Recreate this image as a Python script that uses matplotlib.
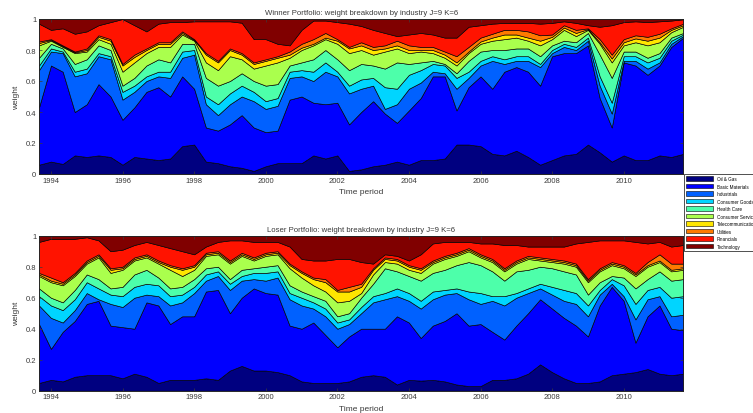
import numpy as np
import pandas as pd
import matplotlib
matplotlib.use("Agg")
import matplotlib.pyplot as plt
from matplotlib.patches import Patch

plt.rcParams['font.family'] = ['Liberation Sans', 'DejaVu Sans']

# Time axis: one observation every four months, Sep 1993 .. Sep 2011
periods = pd.date_range("1993-09-01", "2011-09-01", freq="4MS")

industries = ["Oil & Gas", "Basic Materials", "Industrials", "Consumer Goods",
              "Health Care", "Consumer Services", "Telecommunications",
              "Utilities", "Financials", "Technology"]

# ---- Winner portfolio: upper edge of each stacked band (Technology fills to 1)
winner_oil_gas_top = [0.06, 0.08, 0.065, 0.12, 0.11, 0.12, 0.11, 0.06, 0.11, 0.10, 0.09, 0.10, 0.18, 0.19, 0.08, 0.07, 0.05, 0.04, 0.02, 0.05, 0.07, 0.07, 0.07, 0.12, 0.10, 0.12, 0.02, 0.03, 0.05, 0.06, 0.08, 0.06, 0.09, 0.09, 0.10, 0.19, 0.19, 0.18, 0.13, 0.12, 0.15, 0.11, 0.06, 0.09, 0.12, 0.13, 0.19, 0.14, 0.08, 0.12, 0.09, 0.09, 0.12, 0.11, 0.13]
winner_basic_top = [0.43, 0.70, 0.66, 0.40, 0.45, 0.58, 0.50, 0.35, 0.43, 0.53, 0.56, 0.50, 0.63, 0.55, 0.30, 0.28, 0.32, 0.38, 0.30, 0.27, 0.28, 0.48, 0.50, 0.46, 0.45, 0.46, 0.32, 0.40, 0.47, 0.39, 0.33, 0.41, 0.49, 0.63, 0.63, 0.41, 0.56, 0.63, 0.55, 0.66, 0.69, 0.66, 0.57, 0.76, 0.78, 0.78, 0.83, 0.49, 0.30, 0.72, 0.70, 0.64, 0.70, 0.82, 0.88]
winner_industrials_top = [0.67, 0.79, 0.78, 0.63, 0.65, 0.76, 0.74, 0.48, 0.53, 0.60, 0.63, 0.62, 0.75, 0.77, 0.45, 0.38, 0.45, 0.50, 0.47, 0.42, 0.44, 0.62, 0.63, 0.60, 0.66, 0.63, 0.52, 0.55, 0.57, 0.42, 0.45, 0.55, 0.59, 0.66, 0.65, 0.55, 0.62, 0.70, 0.73, 0.71, 0.73, 0.73, 0.69, 0.78, 0.82, 0.80, 0.86, 0.57, 0.39, 0.73, 0.73, 0.68, 0.72, 0.84, 0.89]
winner_cons_goods_top = [0.70, 0.81, 0.79, 0.66, 0.68, 0.78, 0.76, 0.53, 0.57, 0.63, 0.66, 0.66, 0.79, 0.80, 0.50, 0.45, 0.52, 0.57, 0.53, 0.47, 0.49, 0.66, 0.67, 0.66, 0.72, 0.66, 0.57, 0.61, 0.62, 0.56, 0.55, 0.64, 0.67, 0.71, 0.70, 0.62, 0.66, 0.73, 0.76, 0.74, 0.76, 0.76, 0.71, 0.80, 0.84, 0.82, 0.88, 0.63, 0.46, 0.76, 0.76, 0.72, 0.75, 0.86, 0.90]
winner_health_top = [0.75, 0.84, 0.81, 0.71, 0.74, 0.83, 0.80, 0.57, 0.62, 0.70, 0.74, 0.72, 0.84, 0.84, 0.62, 0.57, 0.60, 0.65, 0.60, 0.57, 0.58, 0.70, 0.72, 0.74, 0.80, 0.74, 0.67, 0.71, 0.70, 0.68, 0.72, 0.71, 0.72, 0.73, 0.71, 0.65, 0.73, 0.79, 0.80, 0.80, 0.81, 0.81, 0.76, 0.83, 0.86, 0.85, 0.91, 0.77, 0.62, 0.79, 0.79, 0.75, 0.78, 0.88, 0.91]
winner_cons_services_top = [0.83, 0.86, 0.82, 0.78, 0.79, 0.87, 0.84, 0.66, 0.72, 0.78, 0.82, 0.82, 0.90, 0.86, 0.72, 0.67, 0.76, 0.74, 0.68, 0.70, 0.72, 0.75, 0.80, 0.83, 0.87, 0.84, 0.78, 0.80, 0.77, 0.79, 0.81, 0.78, 0.79, 0.78, 0.75, 0.70, 0.78, 0.84, 0.86, 0.87, 0.88, 0.86, 0.83, 0.87, 0.93, 0.89, 0.93, 0.84, 0.72, 0.83, 0.85, 0.83, 0.85, 0.915, 0.95]
winner_telecom_top = [0.845, 0.865, 0.825, 0.785, 0.80, 0.885, 0.86, 0.70, 0.755, 0.80, 0.84, 0.84, 0.91, 0.865, 0.77, 0.72, 0.80, 0.77, 0.71, 0.73, 0.75, 0.77, 0.815, 0.84, 0.88, 0.86, 0.81, 0.83, 0.80, 0.81, 0.83, 0.80, 0.80, 0.80, 0.77, 0.72, 0.79, 0.855, 0.88, 0.90, 0.90, 0.88, 0.86, 0.885, 0.945, 0.91, 0.935, 0.85, 0.745, 0.85, 0.875, 0.86, 0.88, 0.93, 0.96]
winner_utilities_top = [0.855, 0.87, 0.83, 0.79, 0.81, 0.895, 0.87, 0.71, 0.77, 0.81, 0.85, 0.85, 0.92, 0.87, 0.78, 0.73, 0.81, 0.78, 0.72, 0.74, 0.76, 0.79, 0.84, 0.87, 0.91, 0.87, 0.82, 0.85, 0.82, 0.83, 0.86, 0.83, 0.82, 0.82, 0.79, 0.76, 0.82, 0.88, 0.905, 0.93, 0.93, 0.92, 0.895, 0.90, 0.96, 0.93, 0.94, 0.87, 0.77, 0.87, 0.895, 0.885, 0.905, 0.94, 0.97]
winner_financials_top = [0.97, 0.93, 0.94, 0.905, 0.92, 0.96, 0.98, 1.0, 0.96, 0.92, 0.97, 0.98, 0.98, 0.985, 0.985, 0.985, 0.985, 0.976, 0.87, 0.87, 0.84, 0.83, 0.93, 0.99, 0.99, 0.98, 0.97, 0.955, 0.93, 0.91, 0.89, 0.90, 0.91, 0.90, 0.88, 0.88, 0.95, 0.96, 0.97, 0.975, 0.975, 0.975, 0.97, 0.975, 0.985, 0.975, 0.96, 0.95, 0.96, 0.98, 0.985, 0.98, 0.985, 0.99, 0.998]

# ---- Loser portfolio
loser_oil_gas_top = [0.05, 0.07, 0.06, 0.09, 0.10, 0.10, 0.10, 0.08, 0.11, 0.09, 0.05, 0.07, 0.07, 0.07, 0.08, 0.07, 0.13, 0.16, 0.13, 0.13, 0.12, 0.10, 0.06, 0.05, 0.05, 0.05, 0.06, 0.09, 0.10, 0.09, 0.04, 0.07, 0.065, 0.07, 0.06, 0.04, 0.03, 0.03, 0.07, 0.07, 0.08, 0.11, 0.17, 0.12, 0.08, 0.05, 0.05, 0.06, 0.10, 0.11, 0.12, 0.14, 0.11, 0.10, 0.11]
loser_basic_top = [0.43, 0.27, 0.38, 0.45, 0.56, 0.58, 0.42, 0.41, 0.40, 0.57, 0.55, 0.43, 0.48, 0.48, 0.64, 0.65, 0.50, 0.60, 0.66, 0.63, 0.62, 0.42, 0.40, 0.44, 0.36, 0.28, 0.35, 0.40, 0.40, 0.40, 0.48, 0.44, 0.34, 0.42, 0.45, 0.50, 0.42, 0.43, 0.38, 0.33, 0.42, 0.50, 0.59, 0.53, 0.47, 0.42, 0.35, 0.55, 0.67, 0.58, 0.31, 0.48, 0.55, 0.40, 0.39]
loser_industrials_top = [0.55, 0.47, 0.44, 0.52, 0.63, 0.59, 0.56, 0.54, 0.60, 0.62, 0.61, 0.55, 0.57, 0.63, 0.71, 0.74, 0.65, 0.71, 0.72, 0.71, 0.73, 0.59, 0.55, 0.53, 0.48, 0.40, 0.43, 0.50, 0.57, 0.59, 0.61, 0.58, 0.53, 0.59, 0.62, 0.63, 0.59, 0.56, 0.58, 0.55, 0.60, 0.63, 0.66, 0.62, 0.58, 0.56, 0.48, 0.62, 0.69, 0.61, 0.46, 0.59, 0.61, 0.48, 0.49]
loser_cons_goods_top = [0.61, 0.55, 0.52, 0.59, 0.70, 0.66, 0.62, 0.61, 0.67, 0.69, 0.68, 0.61, 0.62, 0.67, 0.75, 0.77, 0.69, 0.74, 0.76, 0.76, 0.77, 0.63, 0.60, 0.57, 0.53, 0.44, 0.46, 0.54, 0.61, 0.63, 0.66, 0.63, 0.58, 0.64, 0.65, 0.66, 0.64, 0.63, 0.61, 0.61, 0.63, 0.66, 0.69, 0.67, 0.65, 0.63, 0.55, 0.65, 0.72, 0.68, 0.56, 0.65, 0.67, 0.60, 0.61]
loser_health_top = [0.66, 0.60, 0.57, 0.65, 0.75, 0.72, 0.66, 0.67, 0.75, 0.78, 0.73, 0.66, 0.67, 0.72, 0.79, 0.80, 0.72, 0.78, 0.79, 0.80, 0.81, 0.68, 0.64, 0.61, 0.58, 0.48, 0.50, 0.60, 0.69, 0.79, 0.77, 0.74, 0.71, 0.76, 0.78, 0.81, 0.83, 0.81, 0.77, 0.71, 0.77, 0.78, 0.80, 0.79, 0.77, 0.75, 0.62, 0.70, 0.74, 0.73, 0.66, 0.72, 0.77, 0.71, 0.72]
loser_cons_services_top = [0.74, 0.70, 0.68, 0.74, 0.82, 0.86, 0.76, 0.78, 0.84, 0.86, 0.82, 0.78, 0.74, 0.78, 0.87, 0.88, 0.82, 0.87, 0.84, 0.87, 0.88, 0.79, 0.73, 0.68, 0.64, 0.57, 0.58, 0.63, 0.75, 0.83, 0.82, 0.78, 0.76, 0.82, 0.85, 0.87, 0.90, 0.86, 0.83, 0.77, 0.82, 0.85, 0.84, 0.83, 0.82, 0.80, 0.70, 0.77, 0.81, 0.79, 0.74, 0.80, 0.83, 0.77, 0.78]
loser_telecom_top = [0.75, 0.71, 0.69, 0.75, 0.83, 0.87, 0.78, 0.79, 0.85, 0.87, 0.83, 0.80, 0.78, 0.80, 0.88, 0.89, 0.83, 0.88, 0.85, 0.88, 0.89, 0.81, 0.76, 0.72, 0.70, 0.64, 0.64, 0.67, 0.78, 0.85, 0.84, 0.80, 0.78, 0.83, 0.86, 0.88, 0.91, 0.87, 0.84, 0.78, 0.83, 0.86, 0.85, 0.84, 0.83, 0.81, 0.71, 0.78, 0.82, 0.80, 0.75, 0.81, 0.84, 0.78, 0.79]
loser_utilities_top = [0.76, 0.73, 0.70, 0.76, 0.84, 0.88, 0.79, 0.80, 0.86, 0.88, 0.84, 0.81, 0.79, 0.81, 0.89, 0.90, 0.84, 0.89, 0.86, 0.89, 0.90, 0.82, 0.77, 0.73, 0.72, 0.65, 0.67, 0.69, 0.79, 0.86, 0.85, 0.81, 0.79, 0.84, 0.87, 0.89, 0.92, 0.88, 0.85, 0.79, 0.84, 0.87, 0.86, 0.85, 0.84, 0.82, 0.72, 0.79, 0.83, 0.81, 0.76, 0.83, 0.88, 0.82, 0.82]
loser_financials_top = [0.96, 0.98, 0.98, 0.98, 0.99, 0.97, 0.90, 0.91, 0.94, 0.96, 0.94, 0.92, 0.90, 0.88, 0.93, 0.96, 0.97, 0.97, 0.96, 0.96, 0.96, 0.93, 0.85, 0.84, 0.84, 0.85, 0.85, 0.83, 0.82, 0.88, 0.87, 0.84, 0.88, 0.95, 0.96, 0.96, 0.96, 0.95, 0.95, 0.94, 0.94, 0.93, 0.93, 0.93, 0.93, 0.95, 0.96, 0.97, 0.97, 0.97, 0.96, 0.95, 0.96, 0.93, 0.94]

year_ticks = ["1994", "1996", "1998", "2000", "2002", "2004", "2006", "2008", "2010"]
y_ticks = [0, 0.2, 0.4, 0.6, 0.8, 1]
y_tick_labels = ["0", "0.2", "0.4", "0.6", "0.8", "1"]

colors = plt.cm.jet(np.linspace(0, 1, len(industries)))


def weights_from_tops(tops):
    n = len(tops[0])
    bounds = np.vstack([np.zeros(n)] + [np.asarray(t, float) for t in tops] + [np.ones(n)])
    return np.clip(np.diff(bounds, axis=0), 0, None)


winner_weights = weights_from_tops([winner_oil_gas_top, winner_basic_top, winner_industrials_top,
                                    winner_cons_goods_top, winner_health_top, winner_cons_services_top,
                                    winner_telecom_top, winner_utilities_top, winner_financials_top])
loser_weights = weights_from_tops([loser_oil_gas_top, loser_basic_top, loser_industrials_top,
                                   loser_cons_goods_top, loser_health_top, loser_cons_services_top,
                                   loser_telecom_top, loser_utilities_top, loser_financials_top])

W, H = 753, 414
fig = plt.figure(figsize=(W / 100, H / 100), dpi=100)

def px_axes(left, top, right, bottom):
    return fig.add_axes([left / W, 1 - bottom / H, (right - left) / W, (bottom - top) / H])

ax1 = px_axes(39, 20, 683.3, 175)
ax2 = px_axes(39, 236.7, 683.3, 391.7)

text_color = "#3a3a3a"
for ax, weights, title in [(ax1, winner_weights, "Winner Portfolio: weight breakdown by industry J=9 K=6"),
                           (ax2, loser_weights, "Loser Portfolio: weight breakdown by industry J=9 K=6")]:
    ax.stackplot(periods, weights, colors=colors, edgecolor="black", linewidth=0.45)
    ax.set_xlim(periods[0], periods[-1])
    ax.set_ylim(0, 1)
    ax.set_yticks(y_ticks)
    ax.set_yticklabels(y_tick_labels)
    ax.set_xticks([pd.Timestamp(f"{y}-01-01") for y in year_ticks])
    ax.set_xticklabels(year_ticks)
    ax.tick_params(direction="in", length=2, width=0.5, labelsize=5.5, colors=text_color,
                   pad=2, top=True, right=True)
    for s in ax.spines.values():
        s.set_linewidth(0.6)
        s.set_color("#222222")
    ax.set_title(title, fontsize=5.6, color=text_color, pad=3.5)
    ax.set_xlabel("Time period", fontsize=6, color=text_color, labelpad=3)
    ax.set_ylabel("weight", fontsize=6, color=text_color, labelpad=4)

handles = [Patch(facecolor=c, edgecolor="black", linewidth=0.4) for c in colors]
leg = fig.legend(handles, industries, loc="upper left", bbox_to_anchor=(683.5 / W, 1 - 175 / H),
                 fontsize=3.3, frameon=True, fancybox=False, edgecolor="black",
                 handlelength=6.0, handleheight=1.1, handletextpad=0.8, labelspacing=0.55,
                 borderpad=0.45, borderaxespad=0.0)
leg.get_frame().set_linewidth(0.6)

fig.savefig("out.png", dpi=100)
